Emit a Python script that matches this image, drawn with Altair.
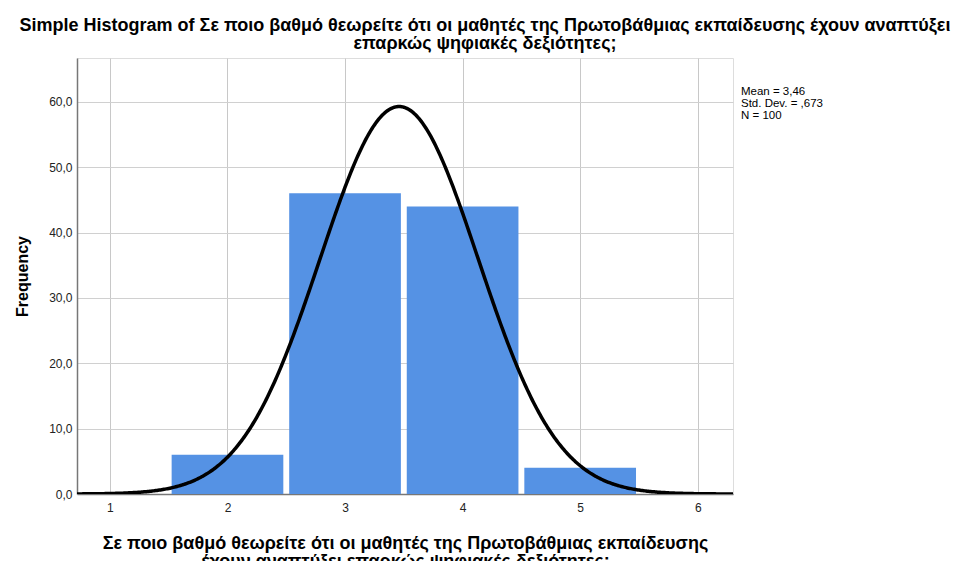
import altair as alt
import pandas as pd

# ---- data ----
categories = [2, 3, 4, 5]
frequencies = [6, 46, 44, 4]
mean_value = 3.46
std_dev = 0.673
n_total = 100
x_ticks = [1, 2, 3, 4, 5, 6]
y_ticks = [0, 10, 20, 30, 40, 50, 60]

title_lines = [
    "Simple Histogram of Σε ποιο βαθμό θεωρείτε ότι οι μαθητές της Πρωτοβάθμιας εκπαίδευσης έχουν αναπτύξει",
    "επαρκώς ψηφιακές δεξιότητες;",
]
x_title_lines = [
    "Σε ποιο βαθμό θεωρείτε ότι οι μαθητές της Πρωτοβάθμιας εκπαίδευσης",
    "έχουν αναπτύξει επαρκώς ψηφιακές δεξιότητες;",
]
stats_lines = [
    "Mean = " + f"{mean_value:.2f}".replace(".", ","),
    "Std. Dev. = " + f"{std_dev:.3f}".replace("0.", ",", 1),
    "N = " + str(n_total),
]

FONT = "Liberation Sans"
X_DOMAIN = [0.72, 6.3]
Y_DOMAIN = [0, 66.7]

bars_df = pd.DataFrame({"value": categories, "count": frequencies})
stats_df = pd.DataFrame({"text": ["\n".join(stats_lines)]})

xscale = alt.Scale(domain=X_DOMAIN, nice=False, zero=False)
yscale = alt.Scale(domain=Y_DOMAIN, nice=False, zero=True)

x_axis = alt.Axis(
    values=x_ticks,
    title=x_title_lines,
    titleFont=FONT,
    titleFontSize=18,
    titleFontWeight="bold",
    titleColor="#000000",
    titleLineHeight=18,
    titleBaseline="top",
    titleY=40,
    labelFont=FONT,
    labelFontSize=12,
    labelColor="#222222",
    labelPadding=8,
    ticks=False,
    domain=True,
    domainColor="#777777",
    domainWidth=1.5,
    grid=True,
    gridColor="#c8c8c8",
    gridWidth=1,
    format="d",
)
y_axis = alt.Axis(
    values=y_ticks,
    title="Frequency",
    titleFont=FONT,
    titleFontSize=16,
    titleFontWeight="bold",
    titleColor="#000000",
    titleAngle=-90,
    titleX=-55,
    titleY=218,
    titleBaseline="middle",
    titleAlign="center",
    labelFont=FONT,
    labelFontSize=12,
    labelColor="#222222",
    labelPadding=5,
    labelExpr="replace(format(datum.value, '.1f'), '.', ',')",
    ticks=False,
    domain=True,
    domainColor="#777777",
    domainWidth=1.5,
    grid=True,
    gridColor="#d0d0d0",
    gridWidth=1,
)

bars = (
    alt.Chart(bars_df)
    .transform_calculate(x0="datum.value - 0.475", x1="datum.value + 0.475")
    .mark_bar(color="#5592e4", opacity=1)
    .encode(
        x=alt.X("x0:Q", scale=xscale, axis=x_axis),
        x2="x1:Q",
        y=alt.Y("count:Q", scale=yscale, axis=y_axis),
        y2=alt.datum(0),
    )
)

curve = (
    alt.Chart(alt.sequence(X_DOMAIN[0], X_DOMAIN[1] + 0.005, 0.01, as_="x"))
    .transform_calculate(
        dens=f"{n_total} * exp(-0.5 * pow((datum.x - {mean_value}) / {std_dev}, 2)) / ({std_dev} * sqrt(2 * PI))"
    )
    .mark_line(color="#000000", strokeWidth=3.5, clip=True)
    .encode(
        x=alt.X("x:Q", scale=xscale),
        y=alt.Y("dens:Q", scale=yscale),
    )
)

stats = (
    alt.Chart(stats_df)
    .mark_text(
        font=FONT, fontSize=11.5, align="left", baseline="alphabetic",
        color="#000000", lineBreak="\n", lineHeight=12,
    )
    .encode(
        x=alt.value(664),
        y=alt.value(37),
        text="text:N",
    )
)

chart = (
    alt.layer(bars, curve, stats)
    .properties(
        width=656,
        height=436,
        padding={"left": 69, "top": 50, "right": 225, "bottom": 67},
        autosize=alt.AutoSizeParams(type="none"),
        title=alt.TitleParams(
            text=title_lines,
            font=FONT,
            fontSize=18,
            fontWeight="bold",
            color="#000000",
            anchor="middle",
            frame="group",
            dx=80,
            lineHeight=18,
            offset=5,
        ),
    )
    .configure_view(stroke=None)
    .configure(background="#ffffff")
)

chart.save("out.html", embed_options={"renderer": "svg", "actions": False})
